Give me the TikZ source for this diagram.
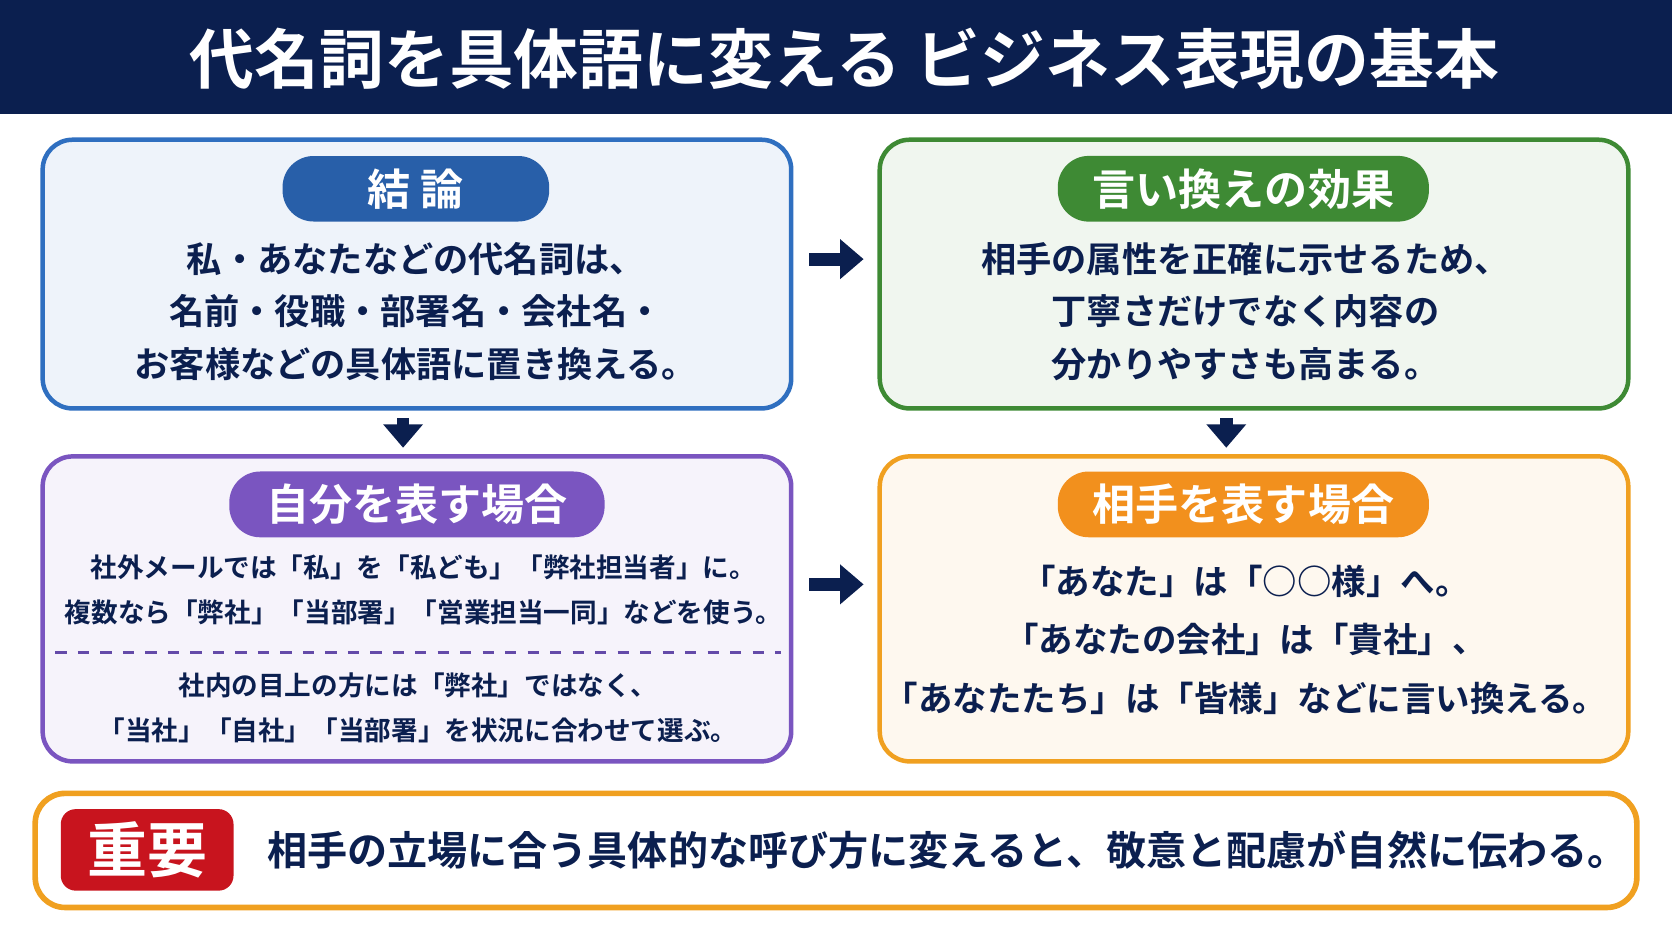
\documentclass[tikz,border=0pt]{standalone}
\usepackage{fontspec}
\setmainfont{Noto Sans CJK JP}[BoldFont={* Bold}]
\usetikzlibrary{positioning}
\usetikzlibrary{arrows.meta}
\definecolor{navy}{HTML}{0B1F4F}
\definecolor{cblue}{HTML}{2F6FC0}
\definecolor{cgreen}{HTML}{3E8A34}
\definecolor{cpurple}{HTML}{7A55C0}
\definecolor{corange}{HTML}{F0A020}
\definecolor{cred}{HTML}{C8141E}
\tikzset{
  card/.style={draw=#1, line width=1.2pt, rounded corners=8pt, minimum width=7.02cm, minimum height=2.52cm},
  pill/.style={fill=#1, rounded corners=0.29cm, minimum height=0.58cm, text=white, font=\bfseries\fontsize{11.5}{14}\selectfont},
  body/.style={align=center, text=navy, font=\bfseries\fontsize{9.4}{14}\selectfont},
  small/.style={align=center, text=navy, font=\bfseries\fontsize{7.1}{12}\selectfont},
  blockarrow/.style={navy, line width=0.12cm, -{Triangle[length=0.22cm,width=0.36cm]}}
}
\begin{document}
\begin{tikzpicture}
\useasboundingbox (0,0) rectangle (15.68,-8.82);
%title
\fill[navy] (0,0) rectangle (15.68,-1.07);
\node[text=white, font=\bfseries\fontsize{17.3}{20}\selectfont] (title) at (7.92,-0.55) {代名詞を具体語に変える ビジネス表現の基本};
%cards
\node[card=cblue, fill=cblue!8] (b1) at (3.91,-2.57) {};
\node[card=cgreen, fill=cgreen!8] (b2) at (11.76,-2.57) {};
\node[card=cpurple, fill=cpurple!7, minimum height=2.86cm] (b3) at (3.91,-5.71) {};
\node[card=corange, fill=corange!7, minimum height=2.86cm] (b4) at (11.76,-5.71) {};
%pills
\node[pill=cblue!80!navy, minimum width=2.5cm] (p1) at (3.9,-1.77) {結 論};
\node[pill=cgreen, minimum width=3.48cm] (p2) at (11.66,-1.77) {言い換えの効果};
\node[pill=cpurple, minimum width=3.52cm] (p3) at (3.91,-4.73) {自分を表す場合};
\node[pill=corange!90!red, minimum width=3.48cm] (p4) at (11.66,-4.73) {相手を表す場合};
%texts
\node[body] (t1) at (3.9,-2.92) {私・あなたなどの代名詞は、\\名前・役職・部署名・会社名・\\お客様などの具体語に置き換える。};
\node[body] (t2) at (11.68,-2.92) {相手の属性を正確に示せるため、\\丁寧さだけでなく内容の\\分かりやすさも高まる。};
\node[small] (t3a) at (3.97,-5.53) {社外メールでは「私」を「私ども」「弊社担当者」に。\\複数なら「弊社」「当部署」「営業担当一同」などを使う。};
\node[small] (t3b) at (3.92,-6.64) {社内の目上の方には「弊社」ではなく、\\「当社」「自社」「当部署」を状況に合わせて選ぶ。};
\draw[cpurple!80!navy, dashed, line width=0.8pt] (0.52,-6.12) -- (7.32,-6.12);
\node[body, font=\bfseries\fontsize{9.2}{15.5}\selectfont] (t4) at (11.68,-6.0) {「あなた」は「○○様」へ。\\「あなたの会社」は「貴社」、\\「あなたたち」は「皆様」などに言い換える。};
%arrows
\draw[blockarrow] ([xshift=0.15cm,yshift=0.14cm]b1.east) -- ([xshift=-0.13cm,yshift=0.14cm]b2.west);
\draw[blockarrow] ([xshift=0.15cm,yshift=0.23cm]b3.east) -- ([xshift=-0.13cm,yshift=0.23cm]b4.west);
\draw[blockarrow] ([xshift=-0.13cm,yshift=-0.07cm]b1.south) -- ([xshift=-0.13cm,yshift=0.06cm]b3.north);
\draw[blockarrow] ([xshift=-0.26cm,yshift=-0.07cm]b2.south) -- ([xshift=-0.26cm,yshift=0.06cm]b4.north);
%bottom
\node[draw=corange, line width=1.5pt, fill=white, rounded corners=8pt, minimum width=15.02cm, minimum height=1.07cm] (bot) at (7.84,-7.975) {};
\node[fill=cred, rounded corners=4pt, minimum width=1.62cm, minimum height=0.76cm, text=white, font=\bfseries\fontsize{16}{20}\selectfont] (imp) at (1.38,-7.97) {重要};
\node[text=navy, font=\bfseries\fontsize{10.7}{16}\selectfont, anchor=west] (msg) at (2.38,-7.97) {相手の立場に合う具体的な呼び方に変えると、敬意と配慮が自然に伝わる。};
\end{tikzpicture}
\end{document}
